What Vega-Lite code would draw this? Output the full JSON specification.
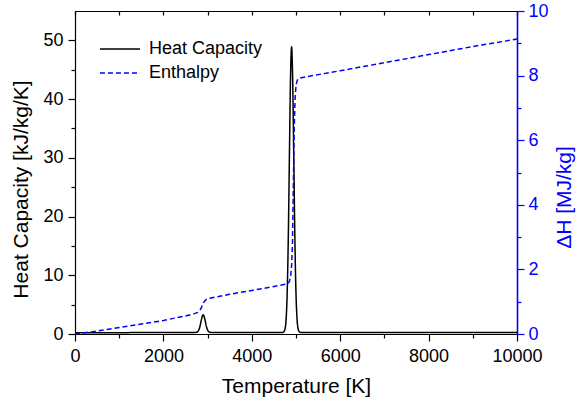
{
  "$schema": "https://vega.github.io/schema/vega-lite/v6.json",
  "width": 442,
  "height": 323,
  "autosize": "none",
  "padding": {"left": 75, "top": 11, "right": 60, "bottom": 76},
  "background": "white",
  "config": {
    "view": {"stroke": "black", "strokeWidth": 1},
    "font": "Liberation Sans",
    "axis": {"grid": false, "labelFont": "Liberation Sans", "titleFont": "Liberation Sans", "labelFontSize": 18, "titleFontSize": 21, "titleFontWeight": "normal", "domainColor": "black", "tickColor": "black", "labelColor": "black", "titleColor": "black", "domainWidth": 1.2, "tickWidth": 1.2}
  },
  "datasets": {
    "cp": [
      {"T": 0, "v": 0.22}, {"T": 1000, "v": 0.23}, {"T": 2000, "v": 0.25}, {"T": 2700, "v": 0.26},
      {"T": 2750, "v": 0.29}, {"T": 2775, "v": 0.39}, {"T": 2800, "v": 0.67}, {"T": 2825, "v": 1.23},
      {"T": 2850, "v": 2.08}, {"T": 2875, "v": 2.9}, {"T": 2900, "v": 3.26}, {"T": 2925, "v": 2.9},
      {"T": 2950, "v": 2.08}, {"T": 2975, "v": 1.23}, {"T": 3000, "v": 0.67}, {"T": 3025, "v": 0.39},
      {"T": 3050, "v": 0.29}, {"T": 3100, "v": 0.26}, {"T": 4000, "v": 0.26}, {"T": 4700, "v": 0.26},
      {"T": 4725, "v": 0.37}, {"T": 4750, "v": 0.8}, {"T": 4775, "v": 2.4}, {"T": 4800, "v": 6.84},
      {"T": 4825, "v": 16.06}, {"T": 4850, "v": 29.8}, {"T": 4875, "v": 43.2}, {"T": 4900, "v": 48.9},
      {"T": 4925, "v": 43.2}, {"T": 4950, "v": 29.8}, {"T": 4975, "v": 16.06}, {"T": 5000, "v": 6.84},
      {"T": 5025, "v": 2.4}, {"T": 5050, "v": 0.8}, {"T": 5075, "v": 0.37}, {"T": 5100, "v": 0.26},
      {"T": 7000, "v": 0.26}, {"T": 10000, "v": 0.26}
    ],
    "h": [
      {"T": 0, "v": 0}, {"T": 500, "v": 0.09}, {"T": 1000, "v": 0.2}, {"T": 1500, "v": 0.31},
      {"T": 2000, "v": 0.42}, {"T": 2500, "v": 0.56}, {"T": 2700, "v": 0.63}, {"T": 2780, "v": 0.67},
      {"T": 2820, "v": 0.72}, {"T": 2850, "v": 0.79}, {"T": 2880, "v": 0.88}, {"T": 2910, "v": 0.97},
      {"T": 2940, "v": 1.03}, {"T": 2980, "v": 1.08}, {"T": 3050, "v": 1.11}, {"T": 3500, "v": 1.23},
      {"T": 4000, "v": 1.35}, {"T": 4500, "v": 1.47}, {"T": 4800, "v": 1.55}, {"T": 4850, "v": 1.62},
      {"T": 4880, "v": 1.8}, {"T": 4900, "v": 2.1}, {"T": 4920, "v": 2.8}, {"T": 4940, "v": 4.6},
      {"T": 4960, "v": 6.4}, {"T": 4980, "v": 7.3}, {"T": 5000, "v": 7.7}, {"T": 5030, "v": 7.86},
      {"T": 5060, "v": 7.92}, {"T": 5500, "v": 8.03}, {"T": 6000, "v": 8.15}, {"T": 7000, "v": 8.4},
      {"T": 8000, "v": 8.65}, {"T": 9000, "v": 8.9}, {"T": 10000, "v": 9.13}
    ]
  },
  "layer": [
    {
      "data": {"name": "cp"},
      "transform": [{"calculate": "'Heat Capacity'", "as": "series"}],
      "mark": {"type": "line", "strokeWidth": 1.5, "interpolate": "monotone"},
      "encoding": {
        "x": {"field": "T", "type": "quantitative", "scale": {"domain": [0, 10000], "nice": false, "zero": false},
          "axis": {"orient": "bottom", "title": "Temperature [K]", "values": [0,1000,2000,3000,4000,5000,6000,7000,8000,9000,10000], "format": "d",
            "labelExpr": "datum.value % 2000 === 0 ? datum.label : ''",
            "tickSize": {"condition": {"test": "datum.value % 2000 === 0", "value": 7}, "value": 4},
            "labelPadding": 6, "titlePadding": 10, "labelFlush": false, "labelOverlap": false}},
        "y": {"field": "v", "type": "quantitative", "scale": {"domain": [0, 55], "nice": false},
          "axis": {"orient": "left", "title": "Heat Capacity [kJ/kg/K]", "values": [0,5,10,15,20,25,30,35,40,45,50],
            "labelExpr": "datum.value % 10 === 0 ? datum.label : ''",
            "tickSize": {"condition": {"test": "datum.value % 10 === 0", "value": 7}, "value": 4},
            "labelPadding": 5, "titlePadding": 11, "titleY": 178, "labelFlush": false, "labelOverlap": false}},
        "color": {"field": "series", "type": "nominal", "scale": {"domain": ["Heat Capacity", "Enthalpy"], "range": ["#000000", "#0000ff"]},
          "legend": {"orient": "none", "legendX": 34, "legendY": 27, "title": null, "symbolType": "M-2,0H2", "symbolSize": 400, "symbolStrokeWidth": 1.5,
            "labelFontSize": 18, "labelFont": "Liberation Sans", "labelColor": "black", "rowPadding": 4, "padding": 0, "labelOffset": 18}},
        "strokeDash": {"field": "series", "type": "nominal", "scale": {"domain": ["Heat Capacity", "Enthalpy"], "range": [[1, 0], [5, 3]]},
          "legend": {"orient": "none", "legendX": 34, "legendY": 27, "title": null, "symbolType": "M-2,0H2", "symbolSize": 400, "symbolStrokeWidth": 1.5,
            "labelFontSize": 18, "labelFont": "Liberation Sans", "labelColor": "black", "rowPadding": 4, "padding": 0, "labelOffset": 18}}
      }
    },
    {
      "data": {"name": "h"},
      "transform": [{"calculate": "'Enthalpy'", "as": "series"}],
      "mark": {"type": "line", "strokeWidth": 1.5},
      "encoding": {
        "x": {"field": "T", "type": "quantitative", "scale": {"domain": [0, 10000], "nice": false, "zero": false},
          "axis": {"orient": "top", "title": null, "labels": false, "values": [0,1000,2000,3000,4000,5000,6000,7000,8000,9000,10000], "tickSize": -4, "domainWidth": 1.2}},
        "y": {"field": "v", "type": "quantitative", "scale": {"domain": [0, 10], "nice": false},
          "axis": {"orient": "right", "title": "ΔH [MJ/kg]", "titleAngle": 270, "values": [0,1,2,3,4,5,6,7,8,9,10],
            "labelExpr": "datum.value % 2 === 0 ? datum.label : ''",
            "tickSize": {"condition": {"test": "datum.value % 2 === 0", "value": 7}, "value": 4},
            "domainColor": "#0000ff", "tickColor": "#0000ff", "labelColor": "#0000ff", "titleColor": "#0000ff", "domainWidth": 1.6,
            "labelPadding": 4, "titlePadding": 26, "titleY": 186, "labelFlush": false, "labelOverlap": false}},
        "color": {"field": "series", "type": "nominal"},
        "strokeDash": {"field": "series", "type": "nominal"}
      }
    }
  ],
  "resolve": {"scale": {"y": "independent"}, "axis": {"x": "independent", "y": "independent"}}
}
